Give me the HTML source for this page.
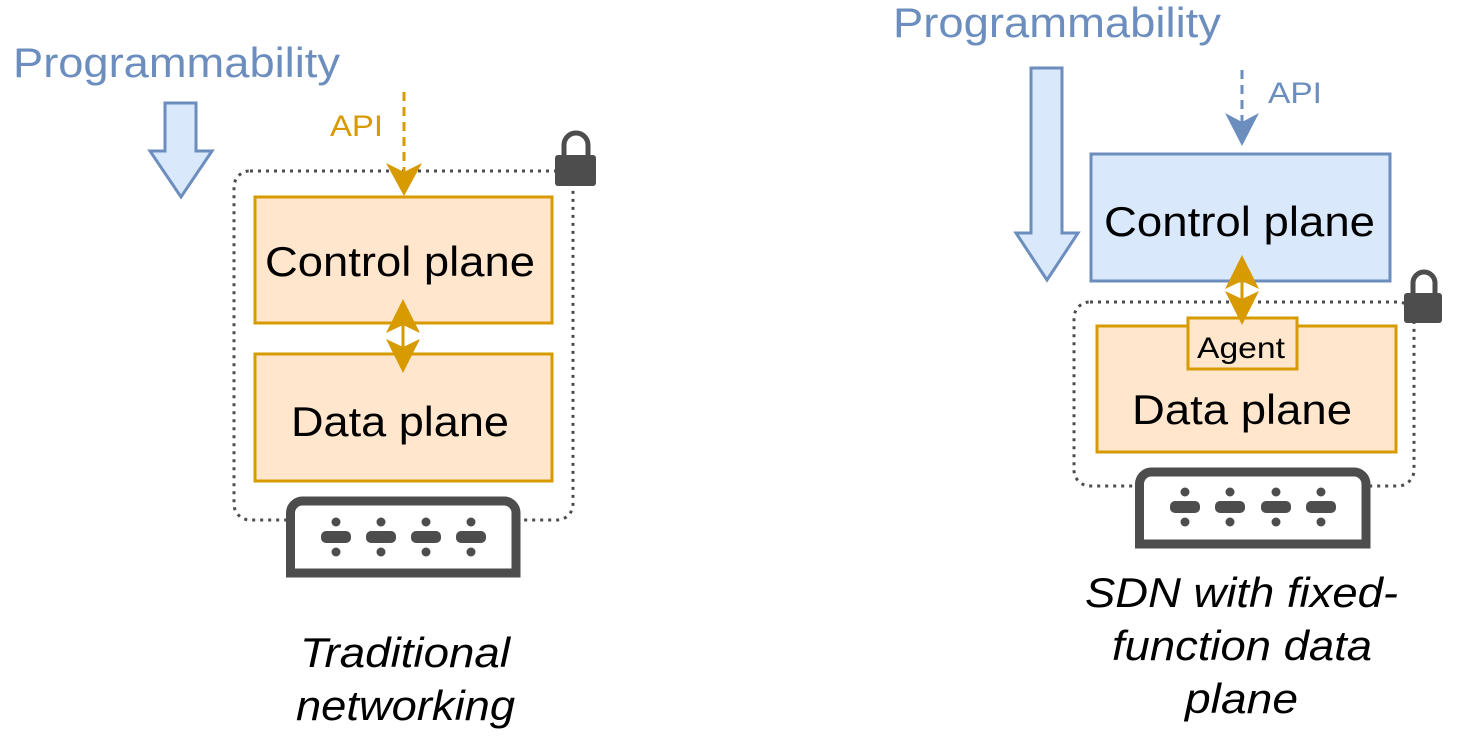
<!DOCTYPE html>
<html><head><meta charset="utf-8"><style>
html,body{margin:0;padding:0;background:#fff;}
svg{display:block;}
text{font-family:"Liberation Sans",Arial,sans-serif;}
</style></head><body>
<svg width="1469" height="747" viewBox="0 0 1469 747" xmlns="http://www.w3.org/2000/svg">
<defs>
<g id="port">
<circle cx="0" cy="-15" r="4.5" fill="#4d4d4d"/>
<rect x="-15" y="-6" width="30" height="12" rx="5" fill="#4d4d4d"/>
<circle cx="0" cy="15" r="4.5" fill="#4d4d4d"/>
</g>
</defs>

<!-- LEFT -->
<text x="13" y="77" font-size="42" fill="#6c8ebf" textLength="327" lengthAdjust="spacingAndGlyphs">Programmability</text>
<polygon points="165,103 196,103 196,151 212,151 181,197 150,151 165,151" fill="#dae8fc" stroke="#6c8ebf" stroke-width="3"/>

<rect x="234" y="171" width="339" height="349" rx="16" fill="none" stroke="#4d4d4d" stroke-width="3" stroke-dasharray="3,5"/>

<rect x="255" y="197" width="297" height="126" fill="#ffe6cc" stroke="#d79b00" stroke-width="3"/>
<text x="265" y="276" font-size="42" fill="#000" textLength="270" lengthAdjust="spacingAndGlyphs">Control plane</text>
<rect x="255" y="354" width="297" height="127" fill="#ffe6cc" stroke="#d79b00" stroke-width="3"/>
<text x="291" y="436" font-size="42" fill="#000" textLength="218" lengthAdjust="spacingAndGlyphs">Data plane</text>

<line x1="404" y1="92" x2="404" y2="178" stroke="#d79b00" stroke-width="3" stroke-dasharray="9,6"/>
<polygon points="404,196 386,163 404,172 422,163" fill="#d79b00"/>
<text x="330" y="136" font-size="30" fill="#d79b00" textLength="53" lengthAdjust="spacingAndGlyphs">API</text>

<line x1="403" y1="310" x2="403" y2="362" stroke="#d79b00" stroke-width="3"/>
<polygon points="403,299 386,333 403,325 420,333" fill="#d79b00"/>
<polygon points="403,373 386,339 403,347 420,339" fill="#d79b00"/>

<path d="M564,157 v-12 a12,12 0 0 1 24,0 v12" fill="none" stroke="#4d4d4d" stroke-width="5"/>
<rect x="555" y="155" width="41" height="31" rx="3" fill="#4d4d4d"/>

<path d="M290.5,573 V513 a12,12 0 0 1 12,-12 H504 a12,12 0 0 1 12,12 V573 Z" fill="#fff" stroke="#4d4d4d" stroke-width="9"/>
<use href="#port" x="336" y="537"/>
<use href="#port" x="381" y="537"/>
<use href="#port" x="426" y="537"/>
<use href="#port" x="471" y="537"/>

<text x="300" y="667" font-size="42" font-style="italic" textLength="210" lengthAdjust="spacingAndGlyphs">Traditional</text>
<text x="296" y="720" font-size="42" font-style="italic" textLength="219" lengthAdjust="spacingAndGlyphs">networking</text>

<!-- RIGHT -->
<text x="893" y="37" font-size="42" fill="#6c8ebf" textLength="328" lengthAdjust="spacingAndGlyphs">Programmability</text>
<polygon points="1031,68 1062,68 1062,233 1078,233 1047,280 1016,233 1031,233" fill="#dae8fc" stroke="#6c8ebf" stroke-width="3"/>

<line x1="1242" y1="70" x2="1242" y2="125" stroke="#6c8ebf" stroke-width="3" stroke-dasharray="9,6"/>
<polygon points="1242,146 1225,113 1242,122 1259,113" fill="#6c8ebf"/>
<text x="1268" y="103" font-size="30" fill="#6c8ebf" textLength="54" lengthAdjust="spacingAndGlyphs">API</text>

<rect x="1091" y="154" width="299" height="127" fill="#dae8fc" stroke="#6c8ebf" stroke-width="3"/>
<text x="1104" y="236" font-size="42" textLength="271" lengthAdjust="spacingAndGlyphs">Control plane</text>

<rect x="1074" y="302" width="340" height="184" rx="16" fill="none" stroke="#4d4d4d" stroke-width="3" stroke-dasharray="3,5"/>

<rect x="1097" y="326" width="299" height="126" fill="#ffe6cc" stroke="#d79b00" stroke-width="3"/>
<text x="1132" y="424" font-size="42" textLength="220" lengthAdjust="spacingAndGlyphs">Data plane</text>
<rect x="1188" y="318" width="109" height="51" fill="#ffe6cc" stroke="#d79b00" stroke-width="3"/>
<text x="1197" y="358" font-size="30" textLength="88" lengthAdjust="spacingAndGlyphs">Agent</text>

<line x1="1242" y1="265" x2="1242" y2="315" stroke="#d79b00" stroke-width="3"/>
<polygon points="1242,255 1225,289 1242,281 1259,289" fill="#d79b00"/>
<polygon points="1242,325 1225,291 1242,299 1259,291" fill="#d79b00"/>

<path d="M1413,295 v-12 a11,11 0 0 1 22,0 v12" fill="none" stroke="#4d4d4d" stroke-width="5"/>
<rect x="1404" y="293" width="38" height="30" rx="3" fill="#4d4d4d"/>

<path d="M1139.5,544 V484 a12,12 0 0 1 12,-12 H1354 a12,12 0 0 1 12,12 V544 Z" fill="#fff" stroke="#4d4d4d" stroke-width="9"/>
<use href="#port" x="1185" y="507"/>
<use href="#port" x="1230" y="507"/>
<use href="#port" x="1276" y="507"/>
<use href="#port" x="1321" y="507"/>

<text x="1085" y="607" font-size="42" font-style="italic" textLength="313" lengthAdjust="spacingAndGlyphs">SDN with fixed-</text>
<text x="1112" y="660" font-size="42" font-style="italic" textLength="260" lengthAdjust="spacingAndGlyphs">function data</text>
<text x="1185" y="713" font-size="42" font-style="italic" textLength="113" lengthAdjust="spacingAndGlyphs">plane</text>
</svg>
</body></html>
